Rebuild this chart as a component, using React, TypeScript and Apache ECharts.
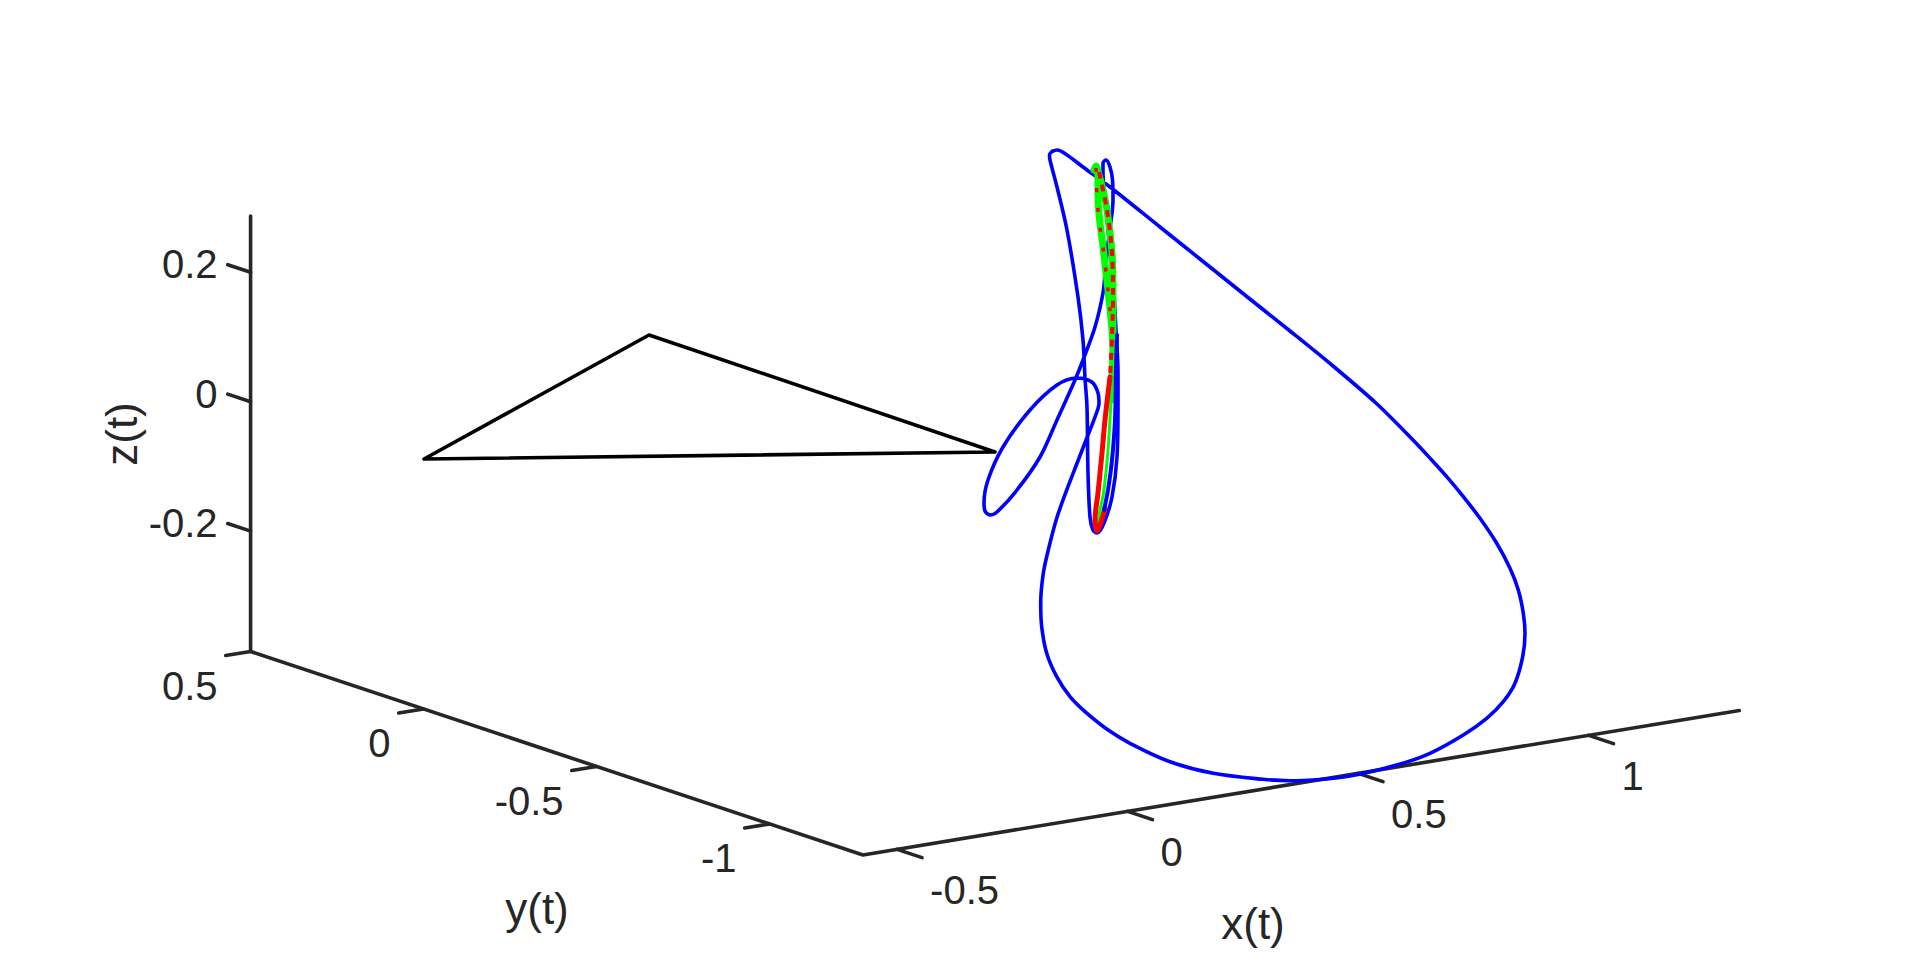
import React, { useEffect, useRef } from "react";
import * as echarts from "echarts";

// --- tick values and labels ---
const xTicks = [-0.5, 0, 0.5, 1];
const yTicks = [0.5, 0, -0.5, -1];
const zTicks = [0.2, 0, -0.2];
const xTickLabels = ["-0.5", "0", "0.5", "1"];
const yTickLabels = ["0.5", "0", "-0.5", "-1"];
const zTickLabels = ["0.2", "0", "-0.2"];
const xRange = [-0.574, 1.327];
const yRange = [-1.27, 0.5];
const zRange = [-0.386, 0.287];
const xAxisName = "x(t)";
const yAxisName = "y(t)";
const zAxisName = "z(t)";

// --- projected traces, in the figure plane ---
const blueU = [1052,1057,1067,1083,1110,1160,1200,1243,1290,1333,1377,1413,1431.7,1446.7,1463.3,1480,1496.7,1510,1518.3,1523.3,1525,1522.7,1515,1503.3,1486.7,1463.3,1430,1396.7,1350,1313.3,1290,1263.3,1213.3,1170,1130,1106.7,1085,1070,1056.7,1046.7,1041.7,1040.7,1043.3,1048.3,1056.7,1066.7,1078.3,1088,1095,1099,1098,1093,1085,1077,1057,1030,1003,988,984,985,990,997,1017,1040,1057,1075,1083,1095,1103,1105,1109,1113,1112.5,1110,1106,1103,1103,1105,1108,1113,1116,1118,1118,1117,1112,1104,1097,1093,1090,1088,1087,1085,1083,1078,1067,1057,1050,1049.5,1052];
const blueV = [151.5,150,155,167,187,227,259,293.5,331,366,404,440,460,476.7,496.7,518.3,543.3,568.3,590,613.3,633.3,656.7,683.3,701.7,718.3,735,753.3,765,776,780,780.7,779.3,773.3,761.7,743.3,729,711.7,696.7,676.7,653.3,626.7,603.3,573.3,550,518.3,490,460,435,417,403,393,383,379,378,385,410,447,480,503,511,515,512,490,457,420,380,360,327,293,273,235,200,180,167,160,163,173,197,230,280,330,373,407,457,497,523,533,530,517,473,407,378,340,297,230,187,160,155,151.5];
const blueInnerU = [1104,1108,1112,1115,1116,1117];
const blueInnerV = [510,490,460,420,370,335];
const greenUpperU = [1111,1113,1113,1112,1107,1103,1099,1096,1094,1096,1098,1098,1103,1108,1112,1113];
const greenUpperV = [400,340,297,253,210,190,175,168,170,166,172,197,247,290,330,350];
const greenLowerU = [1111,1108,1103.5,1100,1097];
const greenLowerV = [400,450,493,510,528];
const redLeftU = [1096,1097,1099,1103,1108,1112];
const redLeftV = [168,197,220,247,290,330];
const redRightU = [1099,1107,1112,1113,1112,1110];
const redRightV = [172,210,253,297,337,377];
const redLowerU = [1110,1105,1102,1098,1095,1097,1100,1105];
const redLowerV = [377,420,453,493,520,531,525,508];
const triangleU = [424,649,995,424];
const triangleV = [459,335,452,459];

// --- 3D view: each data unit moves this far in the figure plane ---
const cornerU = 863, cornerV = 855;
const proj = (x: number, y: number, z: number): [number, number] => [
  cornerU + (x - xRange[0]) * 461 + (y - yRange[0]) * -346,
  cornerV + (x - xRange[0]) * -76 + (y - yRange[0]) * -115 + (z - zRange[0]) * -647,
];
const zip = (u: number[], v: number[]) => u.map((a, i) => [a, v[i]]);
const AXIS = "#262626";

const axisLine = (data: number[][], name: string) => ({
  name, type: "line", data, symbol: "none", silent: true,
  lineStyle: { color: AXIS, width: 3.6, cap: "round", join: "round" },
});
const trace = (data: number[][], name: string, color: string, width: number, smooth: number | boolean = 0.33, extra: any = {}) => ({
  name, type: "line", data, symbol: "none", smooth, silent: true,
  lineStyle: { color, width, join: "round", cap: "round", ...extra },
});
const labels = (data: any[], name: string, align: string, size: number, rotate = 0) => ({
  name, type: "scatter", data, symbolSize: 1, silent: true,
  itemStyle: { color: "rgba(0,0,0,0)", opacity: 1 },
  label: {
    show: true, position: "inside", align, verticalAlign: "middle",
    fontFamily: "'Liberation Sans', Arial, sans-serif", fontSize: size, color: AXIS,
    formatter: (p: any) => p.data[2],
    rotate,
  },
});

export default function App() {
  const ref = useRef<HTMLDivElement>(null);
  useEffect(() => {
    const chart = echarts.init(ref.current!, undefined, { renderer: "svg" });
    const xMin = xRange[0], yMin = yRange[0], yMax = yRange[1], zMin = zRange[0];
    const ticks: any[] = [];
    xTicks.forEach((t, i) => ticks.push(axisLine([proj(t, yMin, zMin), proj(t, yMin - 0.072, zMin)], "xtick" + i)));
    yTicks.forEach((t, i) => ticks.push(axisLine([proj(xMin, t, zMin), proj(xMin - 0.054, t, zMin)], "ytick" + i)));
    zTicks.forEach((t, i) => ticks.push(axisLine([proj(xMin, yMax, t), proj(xMin, yMax + 0.066, t)], "ztick" + i)));
    const xLab = xTicks.map((t, i) => { const p = proj(t, yMin, zMin); return [p[0] + 33, p[1] + 41, xTickLabels[i]]; });
    const yLab = yTicks.map((t, i) => { const p = proj(xMin, t, zMin); return [p[0] - 33, p[1] + 34.5, yTickLabels[i]]; });
    const zLab = zTicks.map((t, i) => { const p = proj(xMin, yMax, t); return [p[0] - 33, p[1] - 8, zTickLabels[i]]; });
    chart.setOption({
      animation: false,
      backgroundColor: "#ffffff",
      grid: { left: 0, right: 0, top: 0, bottom: 0 },
      xAxis: { type: "value", min: 0, max: 1920, show: false },
      yAxis: { type: "value", min: 0, max: 963, inverse: true, show: false },
      series: [
        axisLine([proj(xMin, yMax, zRange[1]), proj(xMin, yMax, zMin), proj(xMin, yMin, zMin), proj(xRange[1], yMin, zMin)], "axes"),
        ...ticks,
        trace(zip(triangleU, triangleV), "triangle", "#000000", 3.6, false),
        trace(zip(blueU, blueV), "blue", "#0000ff", 3.6),
        trace(zip(greenLowerU, greenLowerV), "green lower", "#00ff00", 3),
        trace(zip(greenUpperU, greenUpperV), "green upper", "#00ff00", 7),
        trace(zip(redLowerU, redLowerV), "red lower", "#ff0000", 5),
        trace(zip(redLeftU, redLeftV), "red left", "#ff0000", 3.5, 0.33, { type: [4, 16], cap: "butt" }),
        trace(zip(redRightU, redRightV), "red right", "#ff0000", 4, 0.33, { type: [7, 6], cap: "butt" }),
        trace(zip(blueInnerU, blueInnerV), "blue inner", "#0000ff", 4),
        labels(xLab, "xlabels", "left", 40),
        labels(yLab, "ylabels", "right", 40),
        labels(zLab, "zlabels", "right", 40),
        labels([[537, 908, yAxisName], [1253, 923, xAxisName]], "names", "center", 44),
        labels([[121, 434, zAxisName]], "zname", "center", 44, 90),
      ],
    });
    return () => chart.dispose();
  }, []);
  return <div ref={ref} style={{ position: "absolute", left: 0, top: 0, width: 1920, height: 963 }} />;
}
